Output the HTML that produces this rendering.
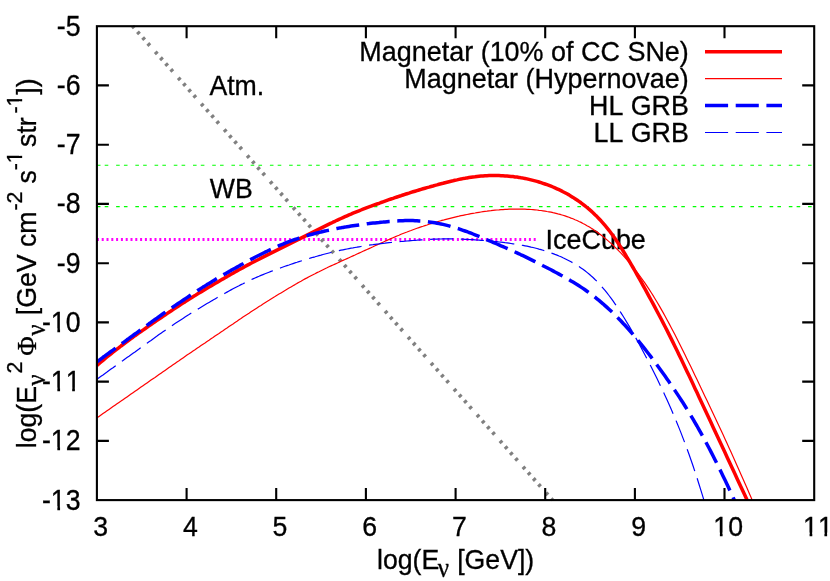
<!DOCTYPE html>
<html><head><meta charset="utf-8"><title>plot</title>
<style>
html,body{margin:0;padding:0;background:#fff;}
svg{display:block;}
text{font-family:"Liberation Sans",sans-serif;font-size:26.67px;fill:#000;stroke:#000;stroke-width:0.3px;font-kerning:none;font-variant-ligatures:none;}
.sup{font-size:21.3px;}
.sym{font-family:"Liberation Serif",serif;}
</style></head><body>
<svg width="830" height="581" viewBox="0 0 830 581" style="will-change:transform">
<rect width="830" height="581" fill="#fff"/>
<defs><clipPath id="pc"><rect x="96.9" y="26.2" width="717.3" height="474.5"/></clipPath></defs>
<!-- in-plot labels (drawn under curves) -->
<text transform="translate(209.4,95.0) scale(1,1.05)">Atm.</text>
<text transform="translate(209.8,197.9) scale(1,1.05)">WB</text>
<text transform="translate(545.5,248.6) scale(1,1.05)" style="font-size:26.95px">IceCube</text>
<!-- reference lines -->
<g fill="none">
<path d="M96.9,239.5 H538.3" stroke="#ff00ff" stroke-width="3.1" stroke-dasharray="2 2.8"/>
<path d="M96.9,165.2 H814.2" stroke="#00ff00" stroke-width="1.1" stroke-dasharray="3.6 4.2 3.6 7.82"/>
<path d="M96.9,206.6 H814.2" stroke="#00ff00" stroke-width="1.1" stroke-dasharray="3.6 4.2 3.6 7.82"/>
<path d="M132.6,26.2 L552.5,500" stroke="#808080" stroke-width="3.8" stroke-dasharray="3 4.8 3 4.8 3 4.8 3 8.25" stroke-dashoffset="0.45"/>
</g>
<!-- curves -->
<g fill="none" stroke-linejoin="round" clip-path="url(#pc)">
<path d="M97.0,365.4 L99.0,363.7 L101.0,362.0 L103.0,360.3 L105.0,358.6 L107.0,357.0 L109.0,355.4 L111.0,353.8 L113.0,352.2 L115.0,350.6 L117.0,349.1 L119.0,347.6 L121.0,346.0 L123.0,344.5 L125.0,343.0 L127.0,341.6 L129.0,340.1 L131.0,338.6 L133.0,337.2 L135.0,335.7 L137.0,334.3 L139.0,332.9 L141.0,331.5 L143.0,330.1 L145.0,328.7 L147.0,327.3 L149.0,325.9 L151.0,324.5 L153.0,323.1 L155.0,321.7 L157.0,320.4 L159.0,319.0 L161.0,317.7 L163.0,316.3 L165.0,315.0 L167.0,313.6 L169.0,312.3 L171.0,311.0 L173.0,309.6 L175.0,308.3 L177.0,307.0 L179.0,305.7 L181.0,304.4 L183.0,303.1 L185.0,301.9 L187.0,300.6 L189.0,299.3 L191.0,298.1 L193.0,296.8 L195.0,295.6 L197.0,294.3 L199.0,293.1 L201.0,291.9 L203.0,290.7 L205.0,289.5 L207.0,288.3 L209.0,287.1 L211.0,285.9 L213.0,284.7 L215.0,283.5 L217.0,282.4 L219.0,281.2 L221.0,280.0 L223.0,278.9 L225.0,277.7 L227.0,276.6 L229.0,275.4 L231.0,274.3 L233.0,273.2 L235.0,272.0 L237.0,270.9 L239.0,269.8 L241.0,268.7 L243.0,267.6 L245.0,266.5 L247.0,265.4 L249.0,264.4 L251.0,263.3 L253.0,262.3 L255.0,261.2 L257.0,260.2 L259.0,259.2 L261.0,258.1 L263.0,257.1 L265.0,256.1 L267.0,255.1 L269.0,254.1 L271.0,253.1 L273.0,252.1 L275.0,251.1 L277.0,250.1 L279.0,249.1 L281.0,248.1 L283.0,247.1 L285.0,246.1 L287.0,245.1 L289.0,244.1 L291.0,243.1 L293.0,242.1 L295.0,241.1 L297.0,240.1 L299.0,239.1 L301.0,238.1 L303.0,237.1 L305.0,236.1 L307.0,235.1 L309.0,234.1 L311.0,233.1 L313.0,232.1 L315.0,231.1 L317.0,230.1 L319.0,229.1 L321.0,228.1 L323.0,227.1 L325.0,226.1 L327.0,225.1 L329.0,224.1 L331.0,223.2 L333.0,222.2 L335.0,221.3 L337.0,220.3 L339.0,219.4 L341.0,218.5 L343.0,217.6 L345.0,216.7 L347.0,215.8 L349.0,214.9 L351.0,214.1 L353.0,213.2 L355.0,212.4 L357.0,211.6 L359.0,210.8 L361.0,210.0 L363.0,209.2 L365.0,208.4 L367.0,207.6 L369.0,206.9 L371.0,206.2 L373.0,205.4 L375.0,204.7 L377.0,204.0 L379.0,203.3 L381.0,202.5 L383.0,201.8 L385.0,201.1 L387.0,200.4 L389.0,199.7 L391.0,199.0 L393.0,198.4 L395.0,197.7 L397.0,197.0 L399.0,196.3 L401.0,195.7 L403.0,195.0 L405.0,194.3 L407.0,193.7 L409.0,193.1 L411.0,192.4 L413.0,191.8 L415.0,191.2 L417.0,190.6 L419.0,190.0 L421.0,189.4 L423.0,188.8 L425.0,188.2 L427.0,187.6 L429.0,187.1 L431.0,186.5 L433.0,186.0 L435.0,185.4 L437.0,184.9 L439.0,184.3 L441.0,183.8 L443.0,183.3 L445.0,182.7 L447.0,182.2 L449.0,181.7 L451.0,181.2 L453.0,180.8 L455.0,180.3 L457.0,179.9 L459.0,179.4 L461.0,179.0 L463.0,178.6 L465.0,178.3 L467.0,177.9 L469.0,177.6 L471.0,177.3 L473.0,177.0 L475.0,176.8 L477.0,176.5 L479.0,176.3 L481.0,176.1 L483.0,176.0 L485.0,175.8 L487.0,175.7 L489.0,175.6 L491.0,175.6 L493.0,175.5 L495.0,175.5 L497.0,175.6 L499.0,175.6 L501.0,175.7 L503.0,175.8 L505.0,175.9 L507.0,176.0 L509.0,176.2 L511.0,176.4 L513.0,176.6 L515.0,176.9 L517.0,177.1 L519.0,177.4 L521.0,177.8 L523.0,178.1 L525.0,178.5 L527.0,178.9 L529.0,179.4 L531.0,179.9 L533.0,180.4 L535.0,180.9 L537.0,181.4 L539.0,182.0 L541.0,182.6 L543.0,183.3 L545.0,184.0 L547.0,184.7 L549.0,185.4 L551.0,186.2 L553.0,187.0 L555.0,187.9 L557.0,188.8 L559.0,189.7 L561.0,190.6 L563.0,191.7 L565.0,192.7 L567.0,193.8 L569.0,194.9 L571.0,196.2 L573.0,197.4 L575.0,198.7 L577.0,200.0 L579.0,201.4 L581.0,202.8 L583.0,204.3 L585.0,205.9 L587.0,207.5 L589.0,209.2 L591.0,210.9 L593.0,212.7 L595.0,214.7 L597.0,216.6 L599.0,218.7 L601.0,220.8 L603.0,223.1 L605.0,225.4 L607.0,227.8 L609.0,230.3 L611.0,233.0 L613.0,235.7 L615.0,238.6 L617.0,241.5 L619.0,244.5 L621.0,247.6 L623.0,250.8 L625.0,254.0 L627.0,257.3 L629.0,260.7 L631.0,264.1 L633.0,267.5 L635.0,271.0 L637.0,274.6 L639.0,278.1 L641.0,281.7 L643.0,285.3 L645.0,288.9 L647.0,292.6 L649.0,296.3 L651.0,300.0 L653.0,303.7 L655.0,307.4 L657.0,311.2 L659.0,315.0 L661.0,318.8 L663.0,322.6 L665.0,326.5 L667.0,330.4 L669.0,334.4 L671.0,338.4 L673.0,342.4 L675.0,346.5 L677.0,350.5 L679.0,354.7 L681.0,358.8 L683.0,363.0 L685.0,367.2 L687.0,371.4 L689.0,375.6 L691.0,379.8 L693.0,384.1 L695.0,388.4 L697.0,392.6 L699.0,396.9 L701.0,401.2 L703.0,405.5 L705.0,409.7 L707.0,414.0 L709.0,418.3 L711.0,422.6 L713.0,426.9 L715.0,431.2 L717.0,435.5 L719.0,439.8 L721.0,444.0 L723.0,448.3 L725.0,452.6 L727.0,456.9 L729.0,461.2 L731.0,465.5 L733.0,469.8 L735.0,474.1 L737.0,478.4 L739.0,482.7 L741.0,487.0 L743.0,491.3 L745.0,495.6 L745.9,497.5 L748.0,502.0" stroke="#ff0000" stroke-width="3.5"/>
<path d="M97.0,417.8 L99.0,416.4 L101.0,415.0 L103.0,413.6 L105.0,412.2 L107.0,410.8 L109.0,409.4 L111.0,408.0 L113.0,406.6 L115.0,405.2 L117.0,403.8 L119.0,402.4 L121.0,401.1 L123.0,399.7 L125.0,398.3 L127.0,396.9 L129.0,395.5 L131.0,394.1 L133.0,392.7 L135.0,391.3 L137.0,389.9 L139.0,388.5 L141.0,387.1 L143.0,385.7 L145.0,384.3 L147.0,382.9 L149.0,381.5 L151.0,380.1 L153.0,378.7 L155.0,377.4 L157.0,376.0 L159.0,374.6 L161.0,373.2 L163.0,371.8 L165.0,370.4 L167.0,369.0 L169.0,367.6 L171.0,366.2 L173.0,364.8 L175.0,363.4 L177.0,362.0 L179.0,360.7 L181.0,359.3 L183.0,357.9 L185.0,356.5 L187.0,355.1 L189.0,353.8 L191.0,352.4 L193.0,351.0 L195.0,349.7 L197.0,348.3 L199.0,347.0 L201.0,345.6 L203.0,344.2 L205.0,342.9 L207.0,341.5 L209.0,340.2 L211.0,338.8 L213.0,337.5 L215.0,336.1 L217.0,334.7 L219.0,333.4 L221.0,332.0 L223.0,330.7 L225.0,329.3 L227.0,328.0 L229.0,326.6 L231.0,325.2 L233.0,323.9 L235.0,322.5 L237.0,321.2 L239.0,319.8 L241.0,318.5 L243.0,317.1 L245.0,315.8 L247.0,314.5 L249.0,313.2 L251.0,311.8 L253.0,310.5 L255.0,309.2 L257.0,307.9 L259.0,306.6 L261.0,305.4 L263.0,304.1 L265.0,302.8 L267.0,301.5 L269.0,300.3 L271.0,299.0 L273.0,297.8 L275.0,296.6 L277.0,295.3 L279.0,294.1 L281.0,292.9 L283.0,291.7 L285.0,290.5 L287.0,289.3 L289.0,288.1 L291.0,286.9 L293.0,285.7 L295.0,284.6 L297.0,283.4 L299.0,282.3 L301.0,281.2 L303.0,280.0 L305.0,278.9 L307.0,277.9 L309.0,276.8 L311.0,275.7 L313.0,274.7 L315.0,273.7 L317.0,272.6 L319.0,271.7 L321.0,270.7 L323.0,269.7 L325.0,268.7 L327.0,267.8 L329.0,266.8 L331.0,265.9 L333.0,265.0 L335.0,264.1 L337.0,263.2 L339.0,262.3 L341.0,261.3 L343.0,260.4 L345.0,259.5 L347.0,258.6 L349.0,257.7 L351.0,256.8 L353.0,255.9 L355.0,255.0 L357.0,254.0 L359.0,253.1 L361.0,252.2 L363.0,251.3 L365.0,250.4 L367.0,249.5 L369.0,248.6 L371.0,247.7 L373.0,246.8 L375.0,245.8 L377.0,244.9 L379.0,244.0 L381.0,243.1 L383.0,242.2 L385.0,241.3 L387.0,240.4 L389.0,239.5 L391.0,238.6 L393.0,237.7 L395.0,236.9 L397.0,236.0 L399.0,235.2 L401.0,234.3 L403.0,233.5 L405.0,232.7 L407.0,232.0 L409.0,231.2 L411.0,230.5 L413.0,229.7 L415.0,229.0 L417.0,228.3 L419.0,227.6 L421.0,226.9 L423.0,226.3 L425.0,225.6 L427.0,225.0 L429.0,224.3 L431.0,223.7 L433.0,223.1 L435.0,222.5 L437.0,221.9 L439.0,221.3 L441.0,220.7 L443.0,220.2 L445.0,219.6 L447.0,219.1 L449.0,218.6 L451.0,218.1 L453.0,217.6 L455.0,217.1 L457.0,216.6 L459.0,216.2 L461.0,215.7 L463.0,215.3 L465.0,214.9 L467.0,214.5 L469.0,214.1 L471.0,213.7 L473.0,213.3 L475.0,213.0 L477.0,212.6 L479.0,212.3 L481.0,212.0 L483.0,211.7 L485.0,211.4 L487.0,211.2 L489.0,210.9 L491.0,210.7 L493.0,210.4 L495.0,210.2 L497.0,210.0 L499.0,209.9 L501.0,209.7 L503.0,209.6 L505.0,209.4 L507.0,209.3 L509.0,209.2 L511.0,209.2 L513.0,209.1 L515.0,209.1 L517.0,209.0 L519.0,209.1 L521.0,209.1 L523.0,209.1 L525.0,209.2 L527.0,209.3 L529.0,209.4 L531.0,209.5 L533.0,209.6 L535.0,209.8 L537.0,210.0 L539.0,210.3 L541.0,210.5 L543.0,210.8 L545.0,211.1 L547.0,211.5 L549.0,211.8 L551.0,212.2 L553.0,212.7 L555.0,213.1 L557.0,213.6 L559.0,214.2 L561.0,214.7 L563.0,215.3 L565.0,215.9 L567.0,216.6 L569.0,217.3 L571.0,218.1 L573.0,218.8 L575.0,219.7 L577.0,220.5 L579.0,221.5 L581.0,222.4 L583.0,223.5 L585.0,224.5 L587.0,225.7 L589.0,226.8 L591.0,228.1 L593.0,229.3 L595.0,230.7 L597.0,232.0 L599.0,233.5 L601.0,235.0 L603.0,236.6 L605.0,238.2 L607.0,239.9 L609.0,241.6 L611.0,243.4 L613.0,245.2 L615.0,247.2 L617.0,249.1 L619.0,251.1 L621.0,253.2 L623.0,255.4 L625.0,257.5 L627.0,259.8 L629.0,262.1 L631.0,264.6 L633.0,267.0 L635.0,269.5 L637.0,272.1 L639.0,274.8 L641.0,277.5 L643.0,280.3 L645.0,283.2 L647.0,286.2 L649.0,289.1 L651.0,292.3 L653.0,295.4 L655.0,298.7 L657.0,302.0 L659.0,305.4 L661.0,308.9 L663.0,312.4 L665.0,316.0 L667.0,319.7 L669.0,323.4 L671.0,327.2 L673.0,331.0 L675.0,334.8 L677.0,338.7 L679.0,342.7 L681.0,346.7 L683.0,350.8 L685.0,354.8 L687.0,358.9 L689.0,363.0 L691.0,367.1 L693.0,371.3 L695.0,375.4 L697.0,379.6 L699.0,383.8 L701.0,388.0 L703.0,392.2 L705.0,396.4 L707.0,400.6 L709.0,404.8 L711.0,409.0 L713.0,413.3 L715.0,417.5 L717.0,421.8 L719.0,426.0 L721.0,430.3 L723.0,434.6 L725.0,438.9 L727.0,443.3 L729.0,447.7 L731.0,452.1 L733.0,456.5 L735.0,460.9 L737.0,465.4 L739.0,469.9 L741.0,474.4 L743.0,478.9 L745.0,483.5 L747.0,488.1 L749.0,492.7 L751.0,497.3 L751.6,498.7 L753.0,502.0" stroke="#ff0000" stroke-width="1.2"/>
<path d="M97.0,361.7 L99.0,360.3 L101.0,358.8 L103.0,357.3 L105.0,355.9 L107.0,354.4 L109.0,353.0 L111.0,351.5 L113.0,350.1 L115.0,348.6 L117.0,347.1 L119.0,345.7 L121.0,344.2 L123.0,342.8 L125.0,341.3 L127.0,339.8 L129.0,338.4 L131.0,336.9 L133.0,335.5 L135.0,334.0 L137.0,332.6 L139.0,331.1 L141.0,329.6 L143.0,328.2 L145.0,326.7 L147.0,325.3 L149.0,323.8 L151.0,322.4 L153.0,320.9 L155.0,319.5 L157.0,318.1 L159.0,316.6 L161.0,315.2 L163.0,313.8 L165.0,312.4 L167.0,311.1 L169.0,309.7 L171.0,308.3 L173.0,307.0 L175.0,305.6 L177.0,304.3 L179.0,302.9 L181.0,301.6 L183.0,300.3 L185.0,298.9 L187.0,297.6 L189.0,296.3 L191.0,294.9 L193.0,293.6 L195.0,292.3 L197.0,291.0 L199.0,289.7 L201.0,288.4 L203.0,287.1 L205.0,285.9 L207.0,284.6 L209.0,283.4 L211.0,282.2 L213.0,280.9 L215.0,279.7 L217.0,278.5 L219.0,277.4 L221.0,276.2 L223.0,275.0 L225.0,273.9 L227.0,272.7 L229.0,271.6 L231.0,270.4 L233.0,269.3 L235.0,268.2 L237.0,267.1 L239.0,266.0 L241.0,264.8 L243.0,263.8 L245.0,262.7 L247.0,261.6 L249.0,260.5 L251.0,259.4 L253.0,258.4 L255.0,257.3 L257.0,256.3 L259.0,255.3 L261.0,254.2 L263.0,253.2 L265.0,252.2 L267.0,251.3 L269.0,250.3 L271.0,249.4 L273.0,248.4 L275.0,247.5 L277.0,246.6 L279.0,245.7 L281.0,244.9 L283.0,244.1 L285.0,243.2 L287.0,242.4 L289.0,241.6 L291.0,240.9 L293.0,240.2 L295.0,239.5 L297.0,238.8 L299.0,238.1 L301.0,237.4 L303.0,236.8 L305.0,236.2 L307.0,235.6 L309.0,235.0 L311.0,234.5 L313.0,234.0 L315.0,233.4 L317.0,232.9 L319.0,232.4 L321.0,232.0 L323.0,231.5 L325.0,231.0 L327.0,230.6 L329.0,230.2 L331.0,229.7 L333.0,229.3 L335.0,228.9 L337.0,228.5 L339.0,228.1 L341.0,227.8 L343.0,227.4 L345.0,227.1 L347.0,226.7 L349.0,226.4 L351.0,226.1 L353.0,225.8 L355.0,225.5 L357.0,225.2 L359.0,224.9 L361.0,224.6 L363.0,224.3 L365.0,224.1 L367.0,223.8 L369.0,223.6 L371.0,223.3 L373.0,223.1 L375.0,222.9 L377.0,222.7 L379.0,222.5 L381.0,222.2 L383.0,222.1 L385.0,221.9 L387.0,221.7 L389.0,221.5 L391.0,221.4 L393.0,221.2 L395.0,221.1 L397.0,220.9 L399.0,220.8 L401.0,220.7 L403.0,220.7 L405.0,220.6 L407.0,220.6 L409.0,220.6 L411.0,220.6 L413.0,220.6 L415.0,220.7 L417.0,220.7 L419.0,220.9 L421.0,221.0 L423.0,221.2 L425.0,221.4 L427.0,221.6 L429.0,221.9 L431.0,222.2 L433.0,222.5 L435.0,222.8 L437.0,223.2 L439.0,223.6 L441.0,224.0 L443.0,224.4 L445.0,224.9 L447.0,225.4 L449.0,225.9 L451.0,226.5 L453.0,227.1 L455.0,227.7 L457.0,228.3 L459.0,228.9 L461.0,229.6 L463.0,230.3 L465.0,231.0 L467.0,231.7 L469.0,232.5 L471.0,233.2 L473.0,234.0 L475.0,234.8 L477.0,235.6 L479.0,236.4 L481.0,237.2 L483.0,238.1 L485.0,238.9 L487.0,239.8 L489.0,240.6 L491.0,241.5 L493.0,242.3 L495.0,243.2 L497.0,244.0 L499.0,244.9 L501.0,245.8 L503.0,246.6 L505.0,247.5 L507.0,248.4 L509.0,249.3 L511.0,250.2 L513.0,251.1 L515.0,252.0 L517.0,252.9 L519.0,253.8 L521.0,254.8 L523.0,255.7 L525.0,256.6 L527.0,257.6 L529.0,258.6 L531.0,259.6 L533.0,260.6 L535.0,261.6 L537.0,262.6 L539.0,263.6 L541.0,264.6 L543.0,265.7 L545.0,266.7 L547.0,267.7 L549.0,268.8 L551.0,269.8 L553.0,270.9 L555.0,272.0 L557.0,273.0 L559.0,274.1 L561.0,275.2 L563.0,276.3 L565.0,277.4 L567.0,278.6 L569.0,279.7 L571.0,280.9 L573.0,282.1 L575.0,283.3 L577.0,284.5 L579.0,285.8 L581.0,287.1 L583.0,288.4 L585.0,289.8 L587.0,291.2 L589.0,292.6 L591.0,294.1 L593.0,295.6 L595.0,297.2 L597.0,298.8 L599.0,300.4 L601.0,302.1 L603.0,303.8 L605.0,305.6 L607.0,307.4 L609.0,309.2 L611.0,311.1 L613.0,313.0 L615.0,314.9 L617.0,316.9 L619.0,319.0 L621.0,321.0 L623.0,323.2 L625.0,325.3 L627.0,327.5 L629.0,329.7 L631.0,332.0 L633.0,334.3 L635.0,336.7 L637.0,339.1 L639.0,341.6 L641.0,344.0 L643.0,346.6 L645.0,349.1 L647.0,351.7 L649.0,354.3 L651.0,356.9 L653.0,359.6 L655.0,362.3 L657.0,365.0 L659.0,367.7 L661.0,370.5 L663.0,373.3 L665.0,376.1 L667.0,379.0 L669.0,381.8 L671.0,384.7 L673.0,387.6 L675.0,390.6 L677.0,393.6 L679.0,396.6 L681.0,399.7 L683.0,402.8 L685.0,406.0 L687.0,409.2 L689.0,412.4 L691.0,415.8 L693.0,419.1 L695.0,422.6 L697.0,426.0 L699.0,429.6 L701.0,433.1 L703.0,436.8 L705.0,440.5 L707.0,444.3 L709.0,448.0 L711.0,451.9 L713.0,455.8 L715.0,459.8 L717.0,463.7 L719.0,467.8 L721.0,471.8 L723.0,476.0 L725.0,480.1 L727.0,484.3 L729.0,488.6 L731.0,492.9 L733.0,497.2 L734.5,500.5 L735.2,502.0" stroke="#0000ff" stroke-width="3.5" stroke-dasharray="23.1 7.6"/>
<path d="M97.0,379.2 L99.0,377.7 L101.0,376.3 L103.0,374.9 L105.0,373.4 L107.0,372.0 L109.0,370.5 L111.0,369.1 L113.0,367.7 L115.0,366.2 L117.0,364.8 L119.0,363.4 L121.0,361.9 L123.0,360.5 L125.0,359.0 L127.0,357.6 L129.0,356.2 L131.0,354.7 L133.0,353.3 L135.0,351.9 L137.0,350.4 L139.0,349.0 L141.0,347.5 L143.0,346.1 L145.0,344.7 L147.0,343.2 L149.0,341.8 L151.0,340.4 L153.0,338.9 L155.0,337.5 L157.0,336.1 L159.0,334.6 L161.0,333.2 L163.0,331.8 L165.0,330.4 L167.0,329.0 L169.0,327.7 L171.0,326.3 L173.0,324.9 L175.0,323.6 L177.0,322.3 L179.0,321.0 L181.0,319.7 L183.0,318.4 L185.0,317.1 L187.0,315.8 L189.0,314.6 L191.0,313.3 L193.0,312.1 L195.0,310.9 L197.0,309.6 L199.0,308.4 L201.0,307.2 L203.0,306.0 L205.0,304.8 L207.0,303.6 L209.0,302.4 L211.0,301.2 L213.0,300.1 L215.0,298.9 L217.0,297.7 L219.0,296.6 L221.0,295.4 L223.0,294.3 L225.0,293.2 L227.0,292.1 L229.0,291.0 L231.0,289.9 L233.0,288.8 L235.0,287.7 L237.0,286.7 L239.0,285.7 L241.0,284.6 L243.0,283.7 L245.0,282.7 L247.0,281.7 L249.0,280.8 L251.0,279.8 L253.0,278.9 L255.0,278.0 L257.0,277.1 L259.0,276.3 L261.0,275.4 L263.0,274.6 L265.0,273.8 L267.0,273.0 L269.0,272.2 L271.0,271.4 L273.0,270.7 L275.0,269.9 L277.0,269.2 L279.0,268.5 L281.0,267.7 L283.0,267.0 L285.0,266.3 L287.0,265.6 L289.0,265.0 L291.0,264.3 L293.0,263.6 L295.0,262.9 L297.0,262.3 L299.0,261.6 L301.0,261.0 L303.0,260.4 L305.0,259.7 L307.0,259.1 L309.0,258.5 L311.0,257.9 L313.0,257.3 L315.0,256.8 L317.0,256.2 L319.0,255.6 L321.0,255.1 L323.0,254.5 L325.0,254.0 L327.0,253.5 L329.0,253.0 L331.0,252.5 L333.0,252.0 L335.0,251.6 L337.0,251.1 L339.0,250.7 L341.0,250.2 L343.0,249.8 L345.0,249.4 L347.0,249.0 L349.0,248.6 L351.0,248.2 L353.0,247.9 L355.0,247.5 L357.0,247.2 L359.0,246.8 L361.0,246.5 L363.0,246.2 L365.0,245.8 L367.0,245.5 L369.0,245.2 L371.0,244.9 L373.0,244.7 L375.0,244.4 L377.0,244.1 L379.0,243.9 L381.0,243.6 L383.0,243.4 L385.0,243.2 L387.0,242.9 L389.0,242.7 L391.0,242.5 L393.0,242.3 L395.0,242.1 L397.0,241.9 L399.0,241.7 L401.0,241.5 L403.0,241.3 L405.0,241.2 L407.0,241.0 L409.0,240.8 L411.0,240.6 L413.0,240.5 L415.0,240.3 L417.0,240.2 L419.0,240.0 L421.0,239.9 L423.0,239.8 L425.0,239.6 L427.0,239.5 L429.0,239.4 L431.0,239.3 L433.0,239.2 L435.0,239.1 L437.0,239.1 L439.0,239.0 L441.0,239.0 L443.0,238.9 L445.0,238.9 L447.0,238.9 L449.0,238.9 L451.0,238.9 L453.0,238.9 L455.0,238.9 L457.0,239.0 L459.0,239.0 L461.0,239.1 L463.0,239.2 L465.0,239.3 L467.0,239.4 L469.0,239.5 L471.0,239.6 L473.0,239.7 L475.0,239.8 L477.0,240.0 L479.0,240.1 L481.0,240.3 L483.0,240.4 L485.0,240.6 L487.0,240.8 L489.0,240.9 L491.0,241.1 L493.0,241.3 L495.0,241.5 L497.0,241.7 L499.0,242.0 L501.0,242.2 L503.0,242.4 L505.0,242.7 L507.0,242.9 L509.0,243.2 L511.0,243.5 L513.0,243.8 L515.0,244.1 L517.0,244.4 L519.0,244.7 L521.0,245.1 L523.0,245.4 L525.0,245.8 L527.0,246.2 L529.0,246.6 L531.0,247.1 L533.0,247.5 L535.0,248.0 L537.0,248.5 L539.0,249.1 L541.0,249.6 L543.0,250.2 L545.0,250.8 L547.0,251.5 L549.0,252.1 L551.0,252.9 L553.0,253.6 L555.0,254.4 L557.0,255.1 L559.0,256.0 L561.0,256.8 L563.0,257.8 L565.0,258.7 L567.0,259.7 L569.0,260.7 L571.0,261.8 L573.0,262.9 L575.0,264.1 L577.0,265.3 L579.0,266.6 L581.0,267.9 L583.0,269.3 L585.0,270.8 L587.0,272.4 L589.0,274.0 L591.0,275.8 L593.0,277.5 L595.0,279.5 L597.0,281.4 L599.0,283.6 L601.0,285.7 L603.0,288.1 L605.0,290.4 L607.0,292.9 L609.0,295.5 L611.0,298.2 L613.0,300.9 L615.0,303.8 L617.0,306.7 L619.0,309.7 L621.0,312.8 L623.0,316.0 L625.0,319.2 L627.0,322.6 L629.0,325.9 L631.0,329.4 L633.0,332.9 L635.0,336.5 L637.0,340.1 L639.0,343.7 L641.0,347.4 L643.0,351.2 L645.0,355.0 L647.0,358.8 L649.0,362.7 L651.0,366.6 L653.0,370.6 L655.0,374.6 L657.0,378.6 L659.0,382.8 L661.0,386.9 L663.0,391.1 L665.0,395.4 L667.0,399.8 L669.0,404.2 L671.0,408.8 L673.0,413.4 L675.0,418.1 L677.0,422.9 L679.0,427.9 L681.0,432.9 L683.0,438.1 L685.0,443.3 L687.0,448.8 L689.0,454.3 L691.0,460.0 L693.0,465.8 L695.0,471.8 L697.0,477.9 L699.0,484.2 L701.0,490.6 L703.0,497.2 L703.6,499.2 L704.5,502.0" stroke="#0000ff" stroke-width="1.2" stroke-dasharray="23.1 7.6"/>
</g>
<!-- frame + ticks -->
<g fill="none" stroke="#000" stroke-width="2.1">
<rect x="96.9" y="26.2" width="717.3" height="473.9"/>
<path d="M186.6,500.1 V488.1 M186.6,26.2 V38.2"/>
<path d="M96.9,85.4 H108.9 M814.2,85.4 H802.2"/>
<path d="M276.2,500.1 V488.1 M276.2,26.2 V38.2"/>
<path d="M96.9,144.7 H108.9 M814.2,144.7 H802.2"/>
<path d="M365.9,500.1 V488.1 M365.9,26.2 V38.2"/>
<path d="M96.9,203.9 H108.9 M814.2,203.9 H802.2"/>
<path d="M455.6,500.1 V488.1 M455.6,26.2 V38.2"/>
<path d="M96.9,263.2 H108.9 M814.2,263.2 H802.2"/>
<path d="M545.2,500.1 V488.1 M545.2,26.2 V38.2"/>
<path d="M96.9,322.4 H108.9 M814.2,322.4 H802.2"/>
<path d="M634.9,500.1 V488.1 M634.9,26.2 V38.2"/>
<path d="M96.9,381.6 H108.9 M814.2,381.6 H802.2"/>
<path d="M724.5,500.1 V488.1 M724.5,26.2 V38.2"/>
<path d="M96.9,440.9 H108.9 M814.2,440.9 H802.2"/>
</g>
<!-- legend -->
<g fill="none">
<path d="M705,51.7 H782" stroke="#ff0000" stroke-width="3.5"/>
<path d="M705,78.6 H782" stroke="#ff0000" stroke-width="1.2"/>
<path d="M705,105.5 H782" stroke="#0000ff" stroke-width="3.5" stroke-dasharray="23.1 7.6"/>
<path d="M705,132.5 H782" stroke="#0000ff" stroke-width="1.2" stroke-dasharray="23.1 7.6"/>
</g>
<text transform="translate(688.8,60.8) scale(1,1.05)" text-anchor="end" style="font-size:26.95px">Magnetar (10% of CC SNe)</text>
<text transform="translate(688.8,87.9) scale(1,1.05)" text-anchor="end" style="font-size:26.95px">Magnetar (Hypernovae)</text>
<text transform="translate(688.8,114.6) scale(1,1.05)" text-anchor="end" style="font-size:26.8px">HL GRB</text>
<text transform="translate(688.8,141.6) scale(1,1.05)" text-anchor="end" style="font-size:26.8px">LL GRB</text>
<!-- axis tick labels -->
<text transform="translate(100.6,535.9) scale(1,1.07)" text-anchor="middle">3</text>
<text transform="translate(190.3,535.9) scale(1,1.07)" text-anchor="middle">4</text>
<text transform="translate(279.9,535.9) scale(1,1.07)" text-anchor="middle">5</text>
<text transform="translate(369.6,535.9) scale(1,1.07)" text-anchor="middle">6</text>
<text transform="translate(459.3,535.9) scale(1,1.07)" text-anchor="middle">7</text>
<text transform="translate(548.9,535.9) scale(1,1.07)" text-anchor="middle">8</text>
<text transform="translate(638.6,535.9) scale(1,1.07)" text-anchor="middle">9</text>
<text transform="translate(728.2,535.9) scale(1,1.07)" text-anchor="middle">10</text><g transform="translate(728.2,535.9) scale(1,1.07)" fill="#fff"><rect x="-13.81" y="-3.11" width="5.49" height="4.71"/><rect x="-5.61" y="-3.11" width="5.35" height="4.71"/></g>
<text transform="translate(817.9,535.9) scale(1,1.07)" text-anchor="middle">11</text><g transform="translate(817.9,535.9) scale(1,1.07)" fill="#fff"><rect x="-13.81" y="-3.11" width="5.49" height="4.71"/><rect x="-5.61" y="-3.11" width="5.35" height="4.71"/><rect x="1.03" y="-3.11" width="5.49" height="4.71"/><rect x="9.22" y="-3.11" width="5.35" height="4.71"/></g>
<text transform="translate(80.5,35.6) scale(1,1.08)" text-anchor="end">-5</text>
<text transform="translate(80.5,94.8) scale(1,1.08)" text-anchor="end">-6</text>
<text transform="translate(80.5,154.1) scale(1,1.08)" text-anchor="end">-7</text>
<text transform="translate(80.5,213.3) scale(1,1.08)" text-anchor="end">-8</text>
<text transform="translate(80.5,272.6) scale(1,1.08)" text-anchor="end">-9</text>
<text transform="translate(80.5,331.8) scale(1,1.08)" text-anchor="end">-10</text><g transform="translate(80.5,331.8) scale(1,1.08)" fill="#fff"><rect x="-28.64" y="-3.11" width="5.49" height="4.71"/><rect x="-20.44" y="-3.11" width="5.35" height="4.71"/></g>
<text transform="translate(80.5,391.0) scale(1,1.08)" text-anchor="end">-11</text><g transform="translate(80.5,391.0) scale(1,1.08)" fill="#fff"><rect x="-28.64" y="-3.11" width="5.49" height="4.71"/><rect x="-20.44" y="-3.11" width="5.35" height="4.71"/><rect x="-13.81" y="-3.11" width="5.49" height="4.71"/><rect x="-5.61" y="-3.11" width="5.35" height="4.71"/></g>
<text transform="translate(80.5,450.3) scale(1,1.08)" text-anchor="end">-12</text><g transform="translate(80.5,450.3) scale(1,1.08)" fill="#fff"><rect x="-28.64" y="-3.11" width="5.49" height="4.71"/><rect x="-20.44" y="-3.11" width="5.35" height="4.71"/></g>
<text transform="translate(80.5,509.5) scale(1,1.08)" text-anchor="end">-13</text><g transform="translate(80.5,509.5) scale(1,1.08)" fill="#fff"><rect x="-28.64" y="-3.11" width="5.49" height="4.71"/><rect x="-20.44" y="-3.11" width="5.35" height="4.71"/></g>
<!-- x label -->
<text transform="translate(377.0,568.5) scale(1,1.05)">log(E</text>
<text transform="translate(437.8,576.8) scale(1,1.05)" class="sym" style="font-size:25px">ν</text>
<text transform="translate(457.2,568.5) scale(1,1.05)">[GeV])</text>
<!-- y label -->
<g transform="translate(36.3,448.2) rotate(-90)">
<text transform="translate(0.0,0.0) scale(1,1.05)" style="font-size:26.67px">log(E</text>
<text transform="translate(62.5,8.3) scale(1,1.05)" class="sym" style="font-size:25px">ν</text>
<text transform="translate(74.8,-14.3) scale(1,1.05)" style="font-size:21.3px">2</text>
<text transform="translate(92.5,0.0) scale(1,1.05)" class="sym" style="font-size:26.67px">Φ</text>
<text transform="translate(112.5,8.3) scale(1,1.05)" class="sym" style="font-size:25px">ν</text>
<text transform="translate(133.0,0.0) scale(1,1.05)" style="font-size:26.67px">[GeV cm</text>
<text transform="translate(237.6,-14.3) scale(1,1.05)" style="font-size:21.3px">-2</text>
<text transform="translate(264.6,0.0) scale(1,1.05)" style="font-size:26.67px">s</text>
<text transform="translate(277.9,-14.3) scale(1,1.05)" style="font-size:21.3px">-1</text><g transform="translate(277.9,-14.3) scale(1,1.05)" fill="#fff"><rect x="7.71" y="-2.71" width="4.55" height="4.31"/><rect x="14.49" y="-2.71" width="4.46" height="4.31"/></g>
<text transform="translate(301.3,0.0) scale(1,1.05)" style="font-size:26.67px">str</text>
<text transform="translate(334.6,-14.3) scale(1,1.05)" style="font-size:21.3px">-1</text><g transform="translate(334.6,-14.3) scale(1,1.05)" fill="#fff"><rect x="7.71" y="-2.71" width="4.55" height="4.31"/><rect x="14.49" y="-2.71" width="4.46" height="4.31"/></g>
<text transform="translate(353.5,0.0) scale(1,1.05)" style="font-size:26.67px">])</text>
</g>
</svg>
</body></html>
